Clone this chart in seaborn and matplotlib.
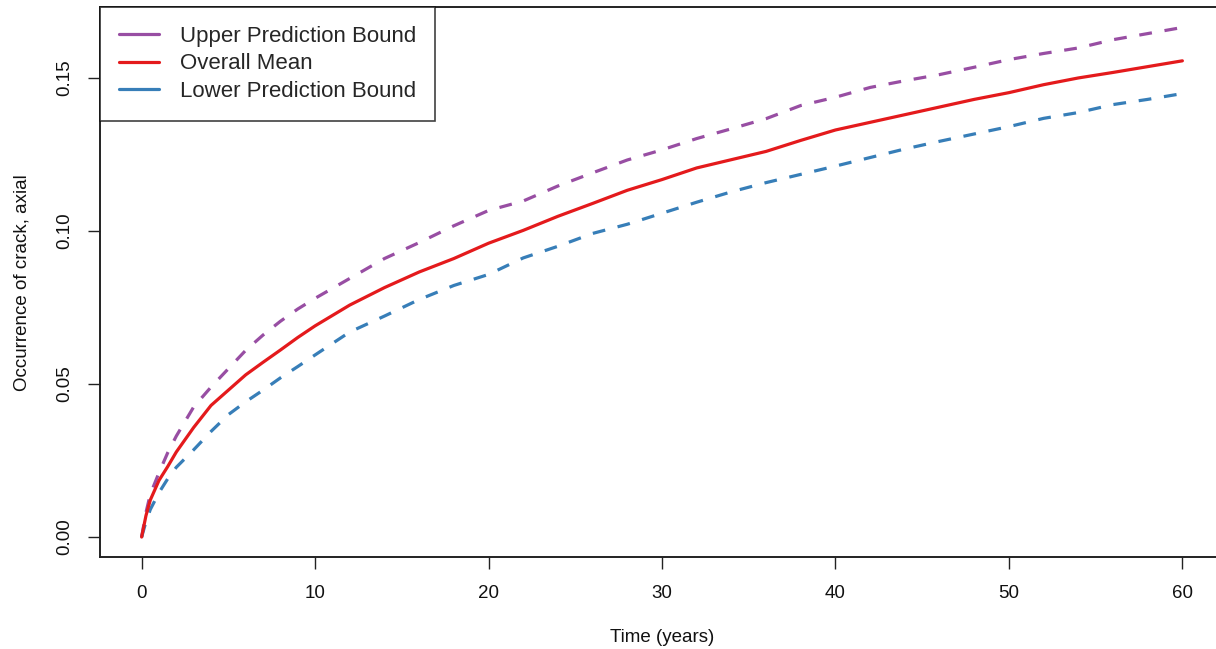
import matplotlib
matplotlib.use("Agg")
import matplotlib.pyplot as plt
from matplotlib.lines import Line2D
import seaborn as sns
import pandas as pd

# Predicted occurrence of axial cracking over time
time_years = [0, 0.25, 0.5, 1, 1.5, 2, 3, 4, 5, 6, 7, 8, 9, 10, 12, 14, 16, 18, 20,
              22, 24, 26, 28, 30, 32, 34, 36, 38, 40, 42, 44, 46, 48, 50, 52, 54,
              56, 58, 60]

upper_bound = [0.0, 0.008, 0.014, 0.021, 0.0275, 0.033, 0.0425, 0.049, 0.055, 0.061,
               0.066, 0.0705, 0.0745, 0.078, 0.0845, 0.091, 0.0962, 0.1017, 0.1067,
               0.1098, 0.1147, 0.119, 0.1232, 0.1265, 0.1302, 0.1334, 0.1367, 0.141,
               0.1437, 0.1469, 0.1491, 0.1511, 0.1535, 0.156, 0.158, 0.1598, 0.1625,
               0.1645, 0.1665]

overall_mean = [0.0, 0.007, 0.0121, 0.0185, 0.023, 0.0278, 0.0358, 0.043, 0.048, 0.053,
                0.0571, 0.0611, 0.0652, 0.069, 0.0758, 0.0815, 0.0866, 0.091, 0.096,
                0.1002, 0.1048, 0.109, 0.1133, 0.1168, 0.1206, 0.1233, 0.126, 0.1296,
                0.133, 0.1355, 0.138, 0.1405, 0.143, 0.1452, 0.1478, 0.15, 0.1518,
                0.1537, 0.1556]

lower_bound = [0.0, 0.005, 0.009, 0.0145, 0.019, 0.0228, 0.0285, 0.0345, 0.04, 0.0442,
               0.048, 0.052, 0.0557, 0.0595, 0.067, 0.0722, 0.0776, 0.0822, 0.0858,
               0.0912, 0.095, 0.0992, 0.1022, 0.1058, 0.1094, 0.1128, 0.1158, 0.1185,
               0.1212, 0.124, 0.1268, 0.1293, 0.1317, 0.1341, 0.1368, 0.1387, 0.1413,
               0.143, 0.1449]

series_names = ["Upper Prediction Bound", "Overall Mean", "Lower Prediction Bound"]
series_colors = ["#984EA3", "#E41A1C", "#377EB8"]

x_ticks = [0, 10, 20, 30, 40, 50, 60]
y_ticks = [0.00, 0.05, 0.10, 0.15]

sns.set_style("white")
plt.rcParams["font.family"] = ["Liberation Sans", "DejaVu Sans"]

df = pd.DataFrame({
    "Time": time_years,
    series_names[0]: upper_bound,
    series_names[1]: overall_mean,
    series_names[2]: lower_bound,
})

fig = plt.figure(figsize=(12.16, 6.49), dpi=100)
ax = fig.add_axes([100 / 1216, 0.1411, 1124 / 1216, 0.9891 - 0.1411])

line_w = 2.3
sns.lineplot(data=df, x="Time", y=series_names[0], ax=ax, color=series_colors[0],
             linewidth=line_w, dashes=False)
sns.lineplot(data=df, x="Time", y=series_names[2], ax=ax, color=series_colors[2],
             linewidth=line_w, dashes=False)
sns.lineplot(data=df, x="Time", y=series_names[1], ax=ax, color=series_colors[1],
             linewidth=line_w, dashes=False)

# dashed bounds, solid mean
for ln in ax.get_lines():
    if ln.get_color() in (series_colors[0], series_colors[2]):
        ln.set_linestyle((0, (4.0, 4.0)))

ax.set_xlim(-2.4, 62.4)
ax.set_ylim(-0.00666, 0.17316)
ax.set_xticks(x_ticks)
ax.set_xticklabels([str(t) for t in x_ticks])
ax.set_yticks(y_ticks)
ax.set_yticklabels([f"{v:.2f}" for v in y_ticks], rotation=90, va="center")

ax.tick_params(axis="both", which="major", direction="out", length=8.6, width=1.0,
               color="#222222", labelsize=13.5, pad=11, labelcolor="#111111")
ax.tick_params(axis="x", bottom=True)
ax.tick_params(axis="y", left=True)

for sp in ax.spines.values():
    sp.set_visible(True)
    sp.set_color("#222222")
    sp.set_linewidth(1.4)

ax.set_xlabel("Time (years)", fontsize=13.5, labelpad=20, color="#111111")
ax.set_ylabel("Occurrence of crack, axial", fontsize=13.5, labelpad=18, color="#111111")

handles = [Line2D([0], [0], color=c, linewidth=line_w) for c in series_colors]
leg = ax.legend(handles, series_names, loc="upper left", bbox_to_anchor=(0, 1),
                borderaxespad=0, fontsize=16, frameon=True, fancybox=False,
                handlelength=1.8, handletextpad=0.95, labelspacing=0.29,
                borderpad=0.85)
leg.get_frame().set_edgecolor("#111111")
leg.get_frame().set_linewidth(1.2)

fig.savefig("out.png", dpi=100)
